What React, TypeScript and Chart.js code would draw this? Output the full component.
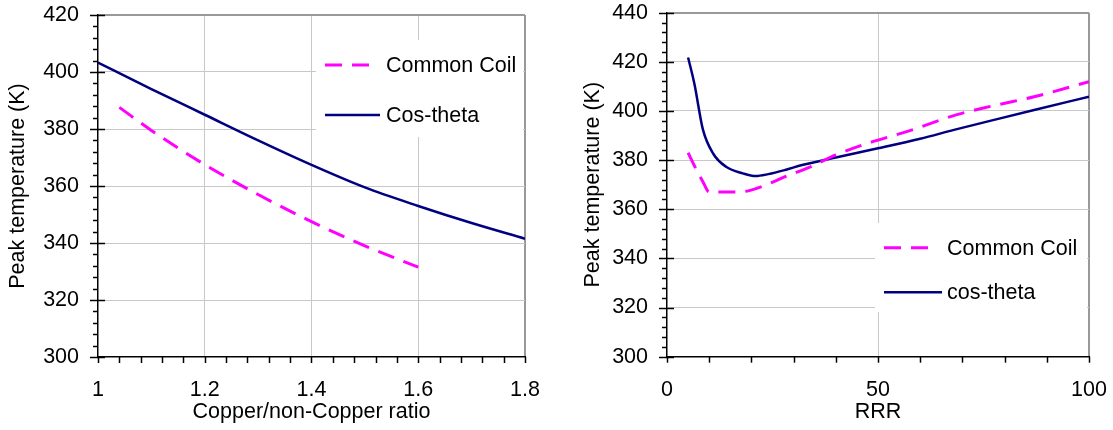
import React, { useEffect, useRef } from "react";
import { Chart, registerables } from "chart.js";
Chart.register(...registerables);

// Left chart: peak temperature vs Copper/non-Copper ratio
const ratioCommonCoilX = [1.04, 1.1, 1.2, 1.3, 1.4, 1.5, 1.6];
const ratioCommonCoilY = [387.6, 379.5, 367.5, 357, 347.5, 339, 331.5];
const ratioCosThetaX = [1.0, 1.1, 1.2, 1.3, 1.4, 1.5, 1.6, 1.7, 1.8];
const ratioCosThetaY = [403.3, 394, 385, 376, 367.4, 359.5, 353, 347, 341.5];

// Right chart: peak temperature vs RRR
const rrrCommonCoilX = [5, 7, 8.5, 10, 13, 16, 19.5, 23.5, 28, 34, 40, 48, 57, 68.5, 77, 87, 100];
const rrrCommonCoilY = [383, 376, 371.2, 367, 367, 367, 367.6, 369.9, 373.3, 377.3, 382.1, 387.1, 391.7, 398.4, 402, 405.8, 411.9];
const rrrCosThetaX = [5, 6.5, 8.5, 11, 14, 18, 21, 24, 28, 32, 40, 50, 60, 68, 78, 87, 100];
const rrrCosThetaY = [421.8, 411, 392.5, 382.5, 377.3, 374.6, 373.5, 374.3, 376, 378, 381.1, 384.8, 388.7, 392.3, 396.6, 400.4, 405.8];

const leftLegend = ["Common Coil", "Cos-theta"];
const rightLegend = ["Common Coil", "cos-theta"];
const leftXTitle = "Copper/non-Copper ratio";
const rightXTitle = "RRR";
const yTitle = "Peak temperature (K)";

const MAGENTA = "#ff00ff";
const NAVY = "#000080";
const FONT_FAMILY = "'Liberation Sans', Arial, sans-serif";
const FONT_SIZE = 21.5;
const font = { family: FONT_FAMILY, size: FONT_SIZE, lineHeight: 1.2 };
const DASH = [17, 10];

const toPts = (xs: number[], ys: number[]) => xs.map((x, i) => ({ x, y: ys[i] }));

const decoPlugin = {
  id: "deco",
  afterDatasetsDraw(chart: any, _args: any, opts: any) {
    const { ctx } = chart;
    const xs = chart.scales.x;
    const ys = chart.scales.y;
    const ca = chart.chartArea;
    ctx.save();
    ctx.strokeStyle = "#000";
    ctx.lineWidth = 1.5;
    // y ticks
    const ny = Math.round((opts.yMax - opts.yMin) / opts.yMinor);
    for (let i = 0; i <= ny; i++) {
      const v = opts.yMin + i * opts.yMinor;
      const py = Math.round(ys.getPixelForValue(v)) + 0.5;
      const major = i % Math.round(opts.yMajor / opts.yMinor) === 0;
      ctx.beginPath();
      if (major) {
        ctx.moveTo(ca.left - 8, py);
        ctx.lineTo(ca.left + 7, py);
      } else {
        ctx.moveTo(ca.left - 5, py);
        ctx.lineTo(ca.left, py);
      }
      ctx.stroke();
    }
    // x ticks
    const nx = Math.round((opts.xMax - opts.xMin) / opts.xMinor);
    for (let i = 0; i <= nx; i++) {
      const v = opts.xMin + i * opts.xMinor;
      const px = Math.round(xs.getPixelForValue(v)) + 0.5;
      ctx.beginPath();
      ctx.moveTo(px, ca.bottom);
      ctx.lineTo(px, ca.bottom + 6);
      ctx.stroke();
    }
    // legend
    const L = opts.legend;
    ctx.fillStyle = "#fff";
    ctx.fillRect(L.boxX, L.boxY, L.boxW, L.boxH);
    ctx.lineWidth = 3;
    ctx.strokeStyle = MAGENTA;
    ctx.setLineDash(DASH);
    ctx.beginPath();
    ctx.moveTo(L.lineX0, L.y1);
    ctx.lineTo(L.lineX1a, L.y1);
    ctx.stroke();
    ctx.setLineDash([]);
    ctx.strokeStyle = NAVY;
    ctx.lineWidth = 2.5;
    ctx.beginPath();
    ctx.moveTo(L.lineX0, L.y2);
    ctx.lineTo(L.lineX1b, L.y2);
    ctx.stroke();
    ctx.fillStyle = "#000";
    ctx.font = `${FONT_SIZE}px ${FONT_FAMILY}`;
    ctx.textBaseline = "middle";
    ctx.textAlign = "left";
    ctx.fillText(L.labels[0], L.textX, L.y1 + 1);
    ctx.fillText(L.labels[1], L.textX, L.y2 + 1);
    ctx.restore();
  },
};

function gridColor(min: number, max: number) {
  return (c: any) => {
    const v = c.tick ? c.tick.value : NaN;
    if (Math.abs(v - min) < 1e-6) return "rgba(0,0,0,0)";
    if (Math.abs(v - max) < 1e-6) return "#999999";
    return "#c8c8c8";
  };
}
function gridWidth(max: number) {
  return (c: any) => {
    const v = c.tick ? c.tick.value : NaN;
    return Math.abs(v - max) < 1e-6 ? 2 : 1;
  };
}

function makeConfig(p: any) {
  return {
    type: "line",
    data: {
      datasets: [
        {
          label: p.labels[0],
          data: p.cc,
          borderColor: MAGENTA,
          borderWidth: 3,
          borderDash: DASH,
          pointRadius: 0,
          fill: false,
          cubicInterpolationMode: "monotone",
        },
        {
          label: p.labels[1],
          data: p.ct,
          borderColor: NAVY,
          borderWidth: 2.5,
          pointRadius: 0,
          fill: false,
          cubicInterpolationMode: "monotone",
        },
      ],
    },
    options: {
      responsive: false,
      animation: false,
      devicePixelRatio: 1,
      layout: { padding: { top: p.top, right: p.right, left: 0, bottom: 0 } },
      plugins: {
        legend: { display: false },
        tooltip: { enabled: false },
        deco: {
          xMin: p.xMin, xMax: p.xMax, xMinor: p.xMinor,
          yMin: p.yMin, yMax: p.yMax, yMinor: 4, yMajor: 20,
          legend: p.legend,
        },
      },
      scales: {
        x: {
          type: "linear",
          min: p.xMin,
          max: p.xMax,
          ticks: {
            stepSize: p.xStep, padding: 20, font, color: "#000", maxRotation: 0, autoSkip: false,
            callback: (v: number) => String(Math.round(v * 100) / 100),
          },
          grid: { drawTicks: false, color: gridColor(p.xMin, p.xMax), lineWidth: gridWidth(p.xMax) },
          border: { display: true, color: "#000", width: 1.5 },
          title: { display: true, text: p.xTitle, font, color: "#000", padding: { top: 0, bottom: 5 } },
          afterFit: (s: any) => {
            s.height = p.xH;
            s.paddingLeft = 0;
            s.paddingRight = 0;
          },
        },
        y: {
          type: "linear",
          min: p.yMin,
          max: p.yMax,
          ticks: { stepSize: 20, padding: 19, font, color: "#000", autoSkip: false },
          grid: { drawTicks: false, color: gridColor(p.yMin, p.yMax), lineWidth: gridWidth(p.yMax) },
          border: { display: true, color: "#000", width: 1.5 },
          title: { display: true, text: yTitle, font, color: "#000", padding: { top: p.yTitlePad, bottom: 0 } },
          afterFit: (s: any) => {
            s.width = p.yW;
            s.paddingTop = 0;
            s.paddingBottom = 0;
          },
        },
      },
    },
    plugins: [decoPlugin],
  };
}

function ChartCanvas({ cfg, width, left }: { cfg: any; width: number; left: number }) {
  const ref = useRef<HTMLCanvasElement | null>(null);
  useEffect(() => {
    if (!ref.current) return;
    const chart = new Chart(ref.current, cfg);
    return () => chart.destroy();
  }, []);
  return (
    <canvas
      ref={ref}
      width={width}
      height={430}
      style={{ position: "absolute", left, top: 0, width, height: 430 }}
    />
  );
}

export default function App() {
  const leftCfg = makeConfig({
    labels: leftLegend,
    cc: toPts(ratioCommonCoilX, ratioCommonCoilY),
    ct: toPts(ratioCosThetaX, ratioCosThetaY),
    xMin: 1, xMax: 1.8, xStep: 0.2, xMinor: 0.04,
    yMin: 300, yMax: 420,
    top: 15, right: 35, xH: 73, yW: 98, yTitlePad: 5.4,
    xTitle: leftXTitle,
    legend: {
      boxX: 316, boxY: 40, boxW: 207, boxH: 97,
      lineX0: 325, lineX1a: 373, lineX1b: 380, textX: 386, y1: 65, y2: 115,
      labels: leftLegend,
    },
  });
  const rightCfg = makeConfig({
    labels: rightLegend,
    cc: toPts(rrrCommonCoilX, rrrCommonCoilY),
    ct: toPts(rrrCosThetaX, rrrCosThetaY),
    xMin: 0, xMax: 100, xStep: 50, xMinor: 10,
    yMin: 300, yMax: 440,
    top: 12.7, right: 24, xH: 73.3, yW: 112, yTitlePad: 25,
    xTitle: rightXTitle,
    legend: {
      boxX: 320, boxY: 223, boxW: 212, boxH: 89,
      lineX0: 329, lineX1a: 380, lineX1b: 387, textX: 392, y1: 247.7, y2: 292.3,
      labels: rightLegend,
    },
  });
  return (
    <div style={{ position: "absolute", left: 0, top: 0, width: 1113, height: 430, background: "#fff" }}>
      <ChartCanvas cfg={leftCfg} width={560} left={0} />
      <ChartCanvas cfg={rightCfg} width={558} left={555} />
    </div>
  );
}
